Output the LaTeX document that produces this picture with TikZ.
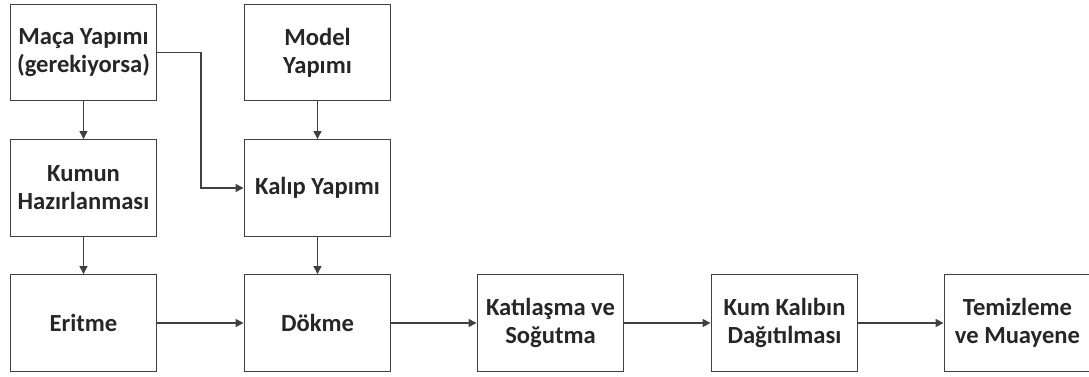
\documentclass[tikz,border=0pt]{standalone}
\usepackage{fontspec}
\setmainfont{Carlito}
\usetikzlibrary{arrows.meta}
\begin{document}
\begin{tikzpicture}[
    proc/.style={draw=black!75, line width=0.8pt, minimum width=2.93cm,
      minimum height=1.93cm, align=center, font=\bfseries\fontsize{14}{16}\selectfont,
      text=black!85},
    link/.style={draw=black!75, line width=0.8pt, ->},
    >={Triangle[length=4.5pt,width=4.5pt]}]
    \useasboundingbox (0,0) rectangle (21.78,7.52);
    \node (maca) at (1.67,6.47) [proc] {Maça Yapımı\\(gerekiyorsa)};
    \node (model) at (6.35,6.47) [proc] {Model\\Yapımı};
    \node (kum) at (1.67,3.76) [proc] {Kumun\\Hazırlanması};
    \node (kalip) at (6.35,3.76) [proc] {Kalıp Yapımı};
    \node (erit) at (1.67,1.06) [proc] {Eritme};
    \node (dok) at (6.35,1.06) [proc] {Dökme};
    \node (kati) at (11.01,1.06) [proc] {Katılaşma ve\\Soğutma};
    \node (dag) at (15.69,1.06) [proc] {Kum Kalıbın\\Dağıtılması};
    \node (temiz) at (20.35,1.06) [proc] {Temizleme\\ve Muayene};
    \draw[link] (maca.south) -- (kum.north);
    \draw[link] (kum.south) -- (erit.north);
    \draw[link] (model.south) -- (kalip.north);
    \draw[link] (kalip.south) -- (dok.north);
    \draw[link] (maca.east) -| (4.02,3.76) -- (kalip.west);
    \draw[link] (erit.east) -- (dok.west);
    \draw[link] (dok.east) -- (kati.west);
    \draw[link] (kati.east) -- (dag.west);
    \draw[link] (dag.east) -- (temiz.west);
\end{tikzpicture}
\end{document}
